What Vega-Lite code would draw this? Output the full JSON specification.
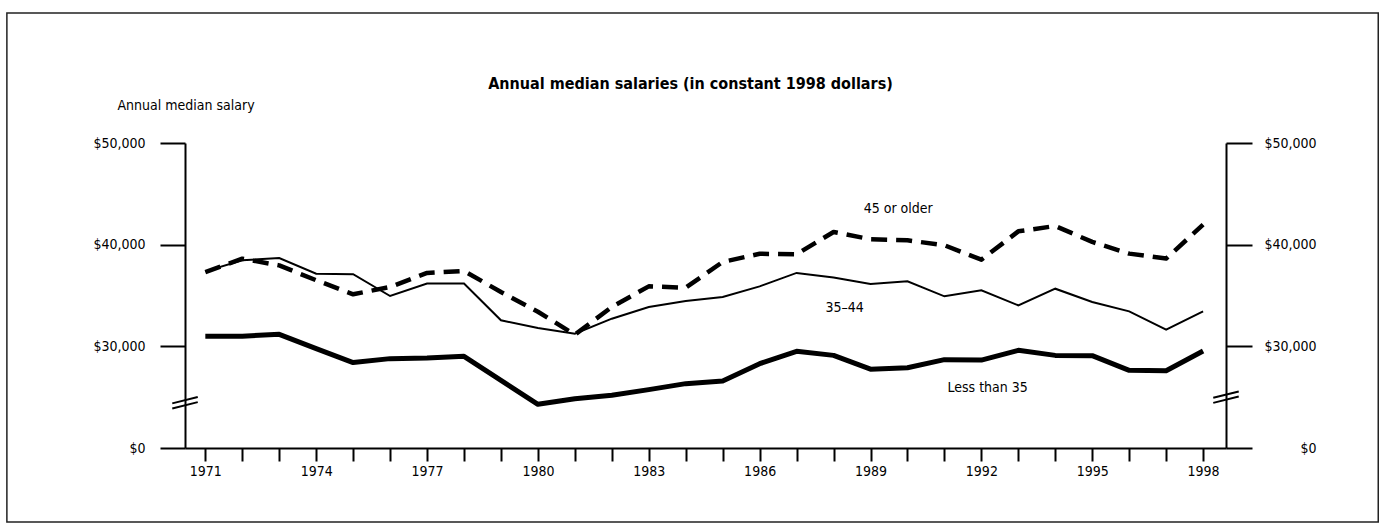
{
  "$schema": "https://vega.github.io/schema/vega-lite/v6.json",
  "width": 1041,
  "height": 305,
  "autosize": {"type": "none"},
  "padding": {"left": 185, "top": 143, "right": 154, "bottom": 77},
  "background": "white",
  "title": {
    "text": "Annual median salaries (in constant 1998 dollars)",
    "font": "DejaVu Sans Condensed",
    "fontSize": 16,
    "fontWeight": "bold",
    "color": "black",
    "anchor": "middle",
    "offset": -80,
    "dx": -15
  },
  "config": {
    "view": {"stroke": null},
    "font": "DejaVu Sans Condensed",
    "axis": {
      "grid": false,
      "domainColor": "black",
      "domainWidth": 2,
      "tickColor": "black",
      "tickWidth": 2,
      "labelColor": "black",
      "labelFont": "DejaVu Sans Condensed",
      "labelFontSize": 14,
      "titleFont": "DejaVu Sans Condensed",
      "titleColor": "black",
      "titleFontWeight": "normal"
    },
    "axisX": {"labelOverlap": false, "labelFlush": false}
  },
  "data": {
    "values": [
      {"year": 1971, "group": "Less than 35", "salary": 31000},
      {"year": 1972, "group": "Less than 35", "salary": 31000},
      {"year": 1973, "group": "Less than 35", "salary": 31180},
      {"year": 1974, "group": "Less than 35", "salary": 29770},
      {"year": 1975, "group": "Less than 35", "salary": 28400},
      {"year": 1976, "group": "Less than 35", "salary": 28790},
      {"year": 1977, "group": "Less than 35", "salary": 28850},
      {"year": 1978, "group": "Less than 35", "salary": 29020},
      {"year": 1979, "group": "Less than 35", "salary": 26650},
      {"year": 1980, "group": "Less than 35", "salary": 24300},
      {"year": 1981, "group": "Less than 35", "salary": 24850},
      {"year": 1982, "group": "Less than 35", "salary": 25180},
      {"year": 1983, "group": "Less than 35", "salary": 25740},
      {"year": 1984, "group": "Less than 35", "salary": 26330},
      {"year": 1985, "group": "Less than 35", "salary": 26590},
      {"year": 1986, "group": "Less than 35", "salary": 28290},
      {"year": 1987, "group": "Less than 35", "salary": 29510},
      {"year": 1988, "group": "Less than 35", "salary": 29110},
      {"year": 1989, "group": "Less than 35", "salary": 27750},
      {"year": 1990, "group": "Less than 35", "salary": 27900},
      {"year": 1991, "group": "Less than 35", "salary": 28690},
      {"year": 1992, "group": "Less than 35", "salary": 28650},
      {"year": 1993, "group": "Less than 35", "salary": 29610},
      {"year": 1994, "group": "Less than 35", "salary": 29110},
      {"year": 1995, "group": "Less than 35", "salary": 29080},
      {"year": 1996, "group": "Less than 35", "salary": 27640},
      {"year": 1997, "group": "Less than 35", "salary": 27600},
      {"year": 1998, "group": "Less than 35", "salary": 29540},
      {"year": 1971, "group": "35–44", "salary": 37370},
      {"year": 1972, "group": "35–44", "salary": 38460},
      {"year": 1973, "group": "35–44", "salary": 38690},
      {"year": 1974, "group": "35–44", "salary": 37150},
      {"year": 1975, "group": "35–44", "salary": 37100},
      {"year": 1976, "group": "35–44", "salary": 34950},
      {"year": 1977, "group": "35–44", "salary": 36170},
      {"year": 1978, "group": "35–44", "salary": 36170},
      {"year": 1979, "group": "35–44", "salary": 32560},
      {"year": 1980, "group": "35–44", "salary": 31800},
      {"year": 1981, "group": "35–44", "salary": 31250},
      {"year": 1982, "group": "35–44", "salary": 32720},
      {"year": 1983, "group": "35–44", "salary": 33870},
      {"year": 1984, "group": "35–44", "salary": 34460},
      {"year": 1985, "group": "35–44", "salary": 34850},
      {"year": 1986, "group": "35–44", "salary": 35900},
      {"year": 1987, "group": "35–44", "salary": 37220},
      {"year": 1988, "group": "35–44", "salary": 36760},
      {"year": 1989, "group": "35–44", "salary": 36130},
      {"year": 1990, "group": "35–44", "salary": 36400},
      {"year": 1991, "group": "35–44", "salary": 34920},
      {"year": 1992, "group": "35–44", "salary": 35510},
      {"year": 1993, "group": "35–44", "salary": 34030},
      {"year": 1994, "group": "35–44", "salary": 35670},
      {"year": 1995, "group": "35–44", "salary": 34360},
      {"year": 1996, "group": "35–44", "salary": 33440},
      {"year": 1997, "group": "35–44", "salary": 31640},
      {"year": 1998, "group": "35–44", "salary": 33440},
      {"year": 1971, "group": "45 or older", "salary": 37310},
      {"year": 1972, "group": "45 or older", "salary": 38620},
      {"year": 1973, "group": "45 or older", "salary": 37960},
      {"year": 1974, "group": "45 or older", "salary": 36500},
      {"year": 1975, "group": "45 or older", "salary": 35120},
      {"year": 1976, "group": "45 or older", "salary": 35840},
      {"year": 1977, "group": "45 or older", "salary": 37220},
      {"year": 1978, "group": "45 or older", "salary": 37410},
      {"year": 1979, "group": "45 or older", "salary": 35350},
      {"year": 1980, "group": "45 or older", "salary": 33400},
      {"year": 1981, "group": "45 or older", "salary": 31150},
      {"year": 1982, "group": "45 or older", "salary": 33870},
      {"year": 1983, "group": "45 or older", "salary": 35900},
      {"year": 1984, "group": "45 or older", "salary": 35770},
      {"year": 1985, "group": "45 or older", "salary": 38300},
      {"year": 1986, "group": "45 or older", "salary": 39100},
      {"year": 1987, "group": "45 or older", "salary": 39060},
      {"year": 1988, "group": "45 or older", "salary": 41250},
      {"year": 1989, "group": "45 or older", "salary": 40530},
      {"year": 1990, "group": "45 or older", "salary": 40430},
      {"year": 1991, "group": "45 or older", "salary": 39940},
      {"year": 1992, "group": "45 or older", "salary": 38520},
      {"year": 1993, "group": "45 or older", "salary": 41310},
      {"year": 1994, "group": "45 or older", "salary": 41840},
      {"year": 1995, "group": "45 or older", "salary": 40270},
      {"year": 1996, "group": "45 or older", "salary": 39120},
      {"year": 1997, "group": "45 or older", "salary": 38630},
      {"year": 1998, "group": "45 or older", "salary": 41970}
    ]
  },
  "resolve": {"axis": {"x": "independent", "y": "independent"}},
  "layer": [
    {
      "transform": [{"filter": "datum.group == 'Less than 35'"}],
      "mark": {"type": "line", "color": "black", "strokeWidth": 5, "strokeCap": "butt", "strokeJoin": "round"},
      "encoding": {
        "x": {
          "field": "year",
          "type": "quantitative",
          "scale": {"domain": [1970.45, 1998.62], "nice": false, "zero": false},
          "axis": {
            "title": null,
            "values": [1971,1972,1973,1974,1975,1976,1977,1978,1979,1980,1981,1982,1983,1984,1985,1986,1987,1988,1989,1990,1991,1992,1993,1994,1995,1996,1997,1998],
            "format": "d",
            "labelExpr": "(datum.value - 1971) % 3 == 0 ? datum.label : ''",
            "tickSize": 13,
            "labelPadding": 3,
            "labelFlush": false,
            "labelOverlap": false
          }
        },
        "y": {
          "field": "salary",
          "type": "quantitative",
          "scale": {"domain": [20000, 50000], "nice": false, "zero": false},
          "axis": {
            "orient": "left",
            "values": [20000, 30000, 40000, 50000],
            "labelExpr": "datum.value == 20000 ? '$0' : '$' + format(datum.value, ',')",
            "tickSize": 25,
            "labelPadding": 15,
            "title": "Annual median salary",
            "titleAngle": 0,
            "titleAlign": "left",
            "titleBaseline": "middle",
            "titleFontSize": 14,
            "titleX": -68,
            "titleY": -38
          }
        }
      }
    },
    {
      "transform": [{"filter": "datum.group == '35–44'"}],
      "mark": {"type": "line", "color": "black", "strokeWidth": 2, "strokeJoin": "miter"},
      "encoding": {
        "x": {"field": "year", "type": "quantitative", "axis": null},
        "y": {"field": "salary", "type": "quantitative", "axis": null}
      }
    },
    {
      "transform": [{"filter": "datum.group == '45 or older'"}],
      "mark": {"type": "line", "color": "black", "strokeWidth": 4.5, "strokeDash": [16, 9], "strokeCap": "butt", "strokeJoin": "round"},
      "encoding": {
        "x": {"field": "year", "type": "quantitative", "axis": null},
        "y": {"field": "salary", "type": "quantitative", "axis": null}
      }
    },
    {
      "data": {"values": [{"edge": "right"}]},
      "mark": {"type": "point", "shape": "M-1,0.05L1,-0.45M-1,0.45L1,-0.05", "filled": false, "stroke": "black", "strokeWidth": 2, "size": 650, "opacity": 1},
      "encoding": {
        "x": {"datum": 1998.62, "type": "quantitative", "axis": null},
        "y": {
          "datum": 25000,
          "type": "quantitative",
          "axis": {
            "orient": "right",
            "values": [20000, 30000, 40000, 50000],
            "labelExpr": "datum.value == 20000 ? '$0' : '$' + format(datum.value, ',')",
            "tickSize": 26,
            "labelAlign": "right",
            "labelPadding": 64,
            "title": null
          }
        }
      }
    },
    {
      "data": {"values": [{"edge": "left"}]},
      "mark": {"type": "point", "shape": "M-1,0.05L1,-0.45M-1,0.45L1,-0.05", "filled": false, "stroke": "black", "strokeWidth": 2, "size": 650, "opacity": 1},
      "encoding": {
        "x": {"datum": 1970.45, "type": "quantitative", "axis": null},
        "y": {"datum": 24450, "type": "quantitative", "axis": null}
      }
    },
    {
      "data": {"values": [{"label": "45 or older", "lx": 1989.75, "ly": 43480}, {"label": "35–44", "lx": 1988.3, "ly": 33740}, {"label": "Less than 35", "lx": 1992.17, "ly": 25920}]},
      "mark": {"type": "text", "font": "DejaVu Sans Condensed", "fontSize": 14, "color": "black", "align": "center", "baseline": "middle"},
      "encoding": {
        "x": {"field": "lx", "type": "quantitative", "axis": null},
        "y": {"field": "ly", "type": "quantitative", "axis": null},
        "text": {"field": "label"}
      }
    },
    {
      "data": {"values": [{"frame": "border"}]},
      "mark": {"type": "rect", "fill": null, "fillOpacity": 0, "stroke": "#222", "strokeWidth": 1.5, "clip": false},
      "encoding": {
        "x": {"datum": 1965.63, "type": "quantitative", "axis": null},
        "x2": {"datum": 2002.74},
        "y": {"datum": 62787, "type": "quantitative", "axis": null},
        "y2": {"datum": 12721}
      }
    }
  ]
}
